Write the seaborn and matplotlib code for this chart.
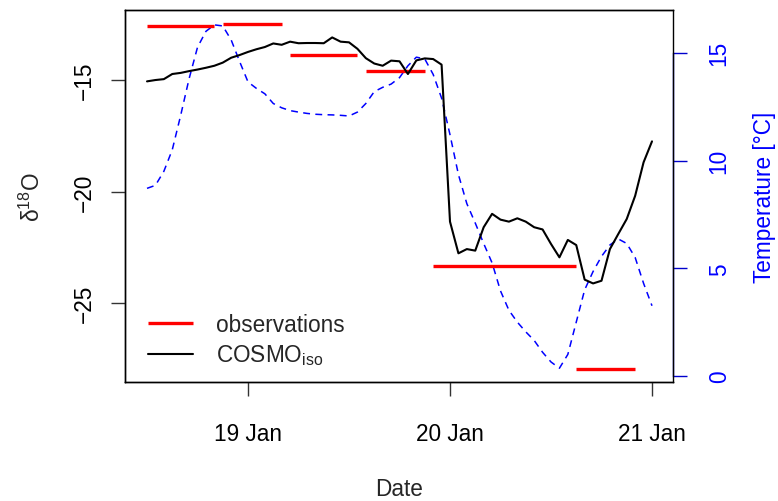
import matplotlib
matplotlib.use("Agg")
import matplotlib.pyplot as plt
import matplotlib.dates as mdates
import seaborn as sns
import pandas as pd

# ---------------- data ----------------
# hourly model output, 18 Jan 12:00 .. 21 Jan 00:00
start_time = "2000-01-18 12:00"
cosmo_d18o = [-15.06, -15.00, -14.96, -14.73, -14.68, -14.60, -14.53, -14.45, -14.36, -14.22,
              -14.00, -13.88, -13.74, -13.62, -13.52, -13.36, -13.42, -13.28, -13.35, -13.34,
              -13.34, -13.35, -13.09, -13.28, -13.31, -13.60, -14.02, -14.26, -14.36, -14.13,
              -14.16, -14.73, -14.12, -14.03, -14.06, -14.31, -21.35, -22.77, -22.58, -22.65,
              -21.60, -21.00, -21.26, -21.35, -21.20, -21.35, -21.60, -21.70, -22.35, -22.95,
              -22.17, -22.40, -23.95, -24.12, -24.00, -22.58, -21.90, -21.23, -20.19, -18.69,
              -17.75]
temperature = [8.71, 8.85, 9.50, 10.50, 12.10, 13.80, 15.26, 16.00, 16.30, 16.25,
               15.60, 14.60, 13.65, 13.35, 13.10, 12.65, 12.45, 12.32, 12.25, 12.19,
               12.15, 12.13, 12.12, 12.10, 12.07, 12.25, 12.65, 13.20, 13.40, 13.55,
               13.85, 14.40, 14.80, 14.72, 14.00, 12.90, 11.20, 9.35, 8.00, 7.10,
               6.15, 5.25, 3.95, 3.05, 2.50, 2.05, 1.65, 1.10, 0.65, 0.36,
               1.00, 2.50, 4.00, 4.85, 5.55, 6.08, 6.36, 6.15, 5.50, 4.30,
               3.26]

obs_start = ["2000-01-18 12:00", "2000-01-18 21:00", "2000-01-19 05:00",
             "2000-01-19 14:00", "2000-01-19 22:00", "2000-01-20 15:00"]
obs_end = ["2000-01-18 20:00", "2000-01-19 04:00", "2000-01-19 13:00",
           "2000-01-19 21:00", "2000-01-20 15:00", "2000-01-20 22:00"]
obs_d18o = [-12.59, -12.48, -13.88, -14.60, -23.33, -27.97]

x_ticks = ["2000-01-19", "2000-01-20", "2000-01-21"]
left_ticks = [-25, -20, -15]
right_ticks = [0, 5, 10, 15]

# ---------------- build ----------------
times = pd.date_range(start_time, periods=len(cosmo_d18o), freq="h")
df = pd.DataFrame({"Date": times, "d18O": cosmo_d18o, "T": temperature})

sns.set_theme(style="white")
plt.rcParams["font.family"] = ["Liberation Sans", "DejaVu Sans"]
plt.rcParams["mathtext.fontset"] = "custom"
plt.rcParams["mathtext.rm"] = "Liberation Sans"
plt.rcParams["mathtext.it"] = "Liberation Sans"
FS = 16.3

fig = plt.figure(figsize=(7.78, 5.02), dpi=100)
ax = fig.add_axes([125 / 778, 1 - 383 / 502, (673 - 125) / 778, (383 - 11) / 502])
ax2 = ax.twinx()

# temperature (right axis)
sns.lineplot(data=df, x="Date", y="T", ax=ax2, color="#0000ff", lw=1.1,
             linestyle=(0, (4.5, 3.5)), legend=False)

# observations
ax.hlines(obs_d18o, pd.to_datetime(obs_start), pd.to_datetime(obs_end),
          color="#ff0000", lw=2.4, label="observations", zorder=3)
# model
sns.lineplot(data=df, x="Date", y="d18O", ax=ax, color="black", lw=1.5,
             label=r"$\mathregular{COSMO_{iso}}$", zorder=4)

ax.set_zorder(ax2.get_zorder() + 1)
ax.patch.set_visible(False)

xmin = pd.Timestamp("2000-01-18") + pd.Timedelta(days=0.391)
xmax = pd.Timestamp("2000-01-21") + pd.Timedelta(days=0.104)
ax.set_xlim(xmin, xmax)
ax.set_ylim(-28.54, -11.86)
ax2.set_ylim(-0.28, 16.99)

ax.set_xticks(pd.to_datetime(x_ticks))
ax.xaxis.set_major_formatter(mdates.DateFormatter("%d %b"))
ax.set_yticks(left_ticks)
ax.set_yticklabels([f"\u2212{abs(v)}" for v in left_ticks], rotation=90, va="center")
ax2.set_yticks(right_ticks)
ax2.set_yticklabels([str(v) for v in right_ticks], rotation=90, va="center")

for a in (ax, ax2):
    for s in a.spines.values():
        s.set_color("black")
        s.set_linewidth(1.0)
ax2.spines["right"].set_color("#0000cc")
ax2.spines["right"].set_bounds(0, 15)

ax.tick_params(axis="both", which="major", length=10, width=1, color="#333333",
               labelsize=FS, left=True, bottom=True, labelcolor="black")
ax.tick_params(axis="y", pad=11)
ax.tick_params(axis="x", pad=19)
ax2.tick_params(axis="y", length=10, width=1, color="#0000cc", labelcolor="#0000ff",
                labelsize=FS, pad=15, right=True)

ax.set_xlabel("Date", fontsize=FS, labelpad=23)
ax.set_ylabel(r"$\mathregular{δ^{18}O}$", fontsize=FS, labelpad=20)
ax2.set_ylabel("Temperature [°C]", fontsize=FS, color="#0000ff", labelpad=16)

h, l = ax.get_legend_handles_labels()
leg = ax.legend(h, l, loc="lower left", bbox_to_anchor=(0.025, 0.015), frameon=False,
                fontsize=FS, handlelength=2.0, handletextpad=1.0, labelspacing=0.3,
                borderaxespad=0)

fig.savefig("out.png", dpi=100)
